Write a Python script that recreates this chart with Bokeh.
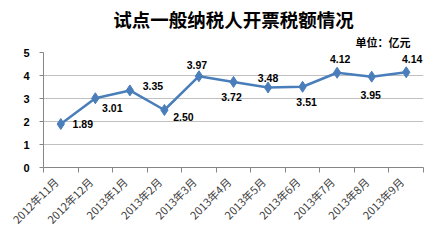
import math
from bokeh.plotting import figure
from bokeh.models import FixedTicker, Range1d, Title, ColumnDataSource
from bokeh.core.properties import value
from bokeh.embed import file_html
from bokeh.resources import INLINE

months = ["2012年11月", "2012年12月", "2013年1月", "2013年2月", "2013年3月", "2013年4月",
          "2013年5月", "2013年6月", "2013年7月", "2013年8月", "2013年9月"]
amounts = [1.89, 3.01, 3.35, 2.50, 3.97, 3.72, 3.48, 3.51, 4.12, 3.95, 4.14]
y_ticks = [0, 1, 2, 3, 4, 5]
title_text = "试点一般纳税人开票税额情况"
unit_text = "单位：亿元"

# label placement (pixels) -- styling only
lab_dx = [22, 17, 23, 19, -2, -2, 0, 4, 3, -1, 6]
lab_dy = [0, 10, -4, 7, -11, 15, -9, 15, -14, 18, -13]

n = len(months)
xs = [i + 0.5 for i in range(n)]
label_pos = [x - 0.14 for x in xs]  # visual nudge of rotated labels

p = figure(width=443, height=252, output_backend="svg", toolbar_location=None,
           x_range=Range1d(0, n), y_range=Range1d(0, 5),
           min_border_left=43, min_border_right=20, min_border_top=52, min_border_bottom=85)
p.background_fill_color = "white"
p.border_fill_color = "white"
p.outline_line_color = None

p.add_layout(Title(text=unit_text, align="right", text_font="Noto Sans CJK SC",
                   text_font_style="bold", text_font_size="11px", text_color="black",
                   offset=13, standoff=5), "above")
p.add_layout(Title(text=title_text, align="center", text_font="Noto Sans CJK SC",
                   text_font_style="bold", text_font_size="18.5px", text_color="black",
                   standoff=-5), "above")

p.xgrid.grid_line_color = None
p.ygrid.grid_line_color = "#c0c0c0"
p.ygrid.grid_line_width = 1
p.ygrid.ticker = FixedTicker(ticks=y_ticks)

xa = p.xaxis[0]
xa.ticker = FixedTicker(ticks=label_pos, minor_ticks=list(range(n + 1)))
xa.major_label_overrides = {x: m for x, m in zip(label_pos, months)}
xa.major_tick_line_color = None
xa.major_tick_out = 0
xa.minor_tick_line_color = "#868686"
xa.minor_tick_out = 5
xa.minor_tick_in = 0
xa.axis_line_color = "#868686"
xa.major_label_orientation = math.pi / 4
xa.major_label_text_font = "Noto Sans CJK SC"
xa.major_label_text_font_size = "11px"
xa.major_label_text_color = "#404040"
xa.major_label_standoff = 7

ya = p.yaxis[0]
ya.ticker = FixedTicker(ticks=y_ticks)
ya.axis_line_color = "#868686"
ya.major_tick_line_color = "#868686"
ya.major_tick_out = 4
ya.major_tick_in = 0
ya.minor_tick_line_color = None
ya.major_label_text_font = "Liberation Sans"
ya.major_label_text_font_style = "bold"
ya.major_label_text_font_size = "11px"
ya.major_label_text_color = "black"
ya.major_label_standoff = 10

src = ColumnDataSource(dict(x=xs, y=amounts, t=["%.2f" % v for v in amounts],
                            dx=lab_dx, dy=lab_dy))
p.line("x", "y", source=src, line_color="#4a7ebb", line_width=2.5)
p.scatter("x", "y", source=src, marker="diamond", size=11, fill_color="#4a7ebb",
          line_color="#4a7ebb")
p.text("x", "y", text="t", source=src, x_offset="dx", y_offset="dy",
       text_align="center", text_baseline="middle", text_font=value("Liberation Sans"),
       text_font_style="bold", text_font_size="10.5px", text_color="black")

open("out.html", "w").write(file_html(p, INLINE))
